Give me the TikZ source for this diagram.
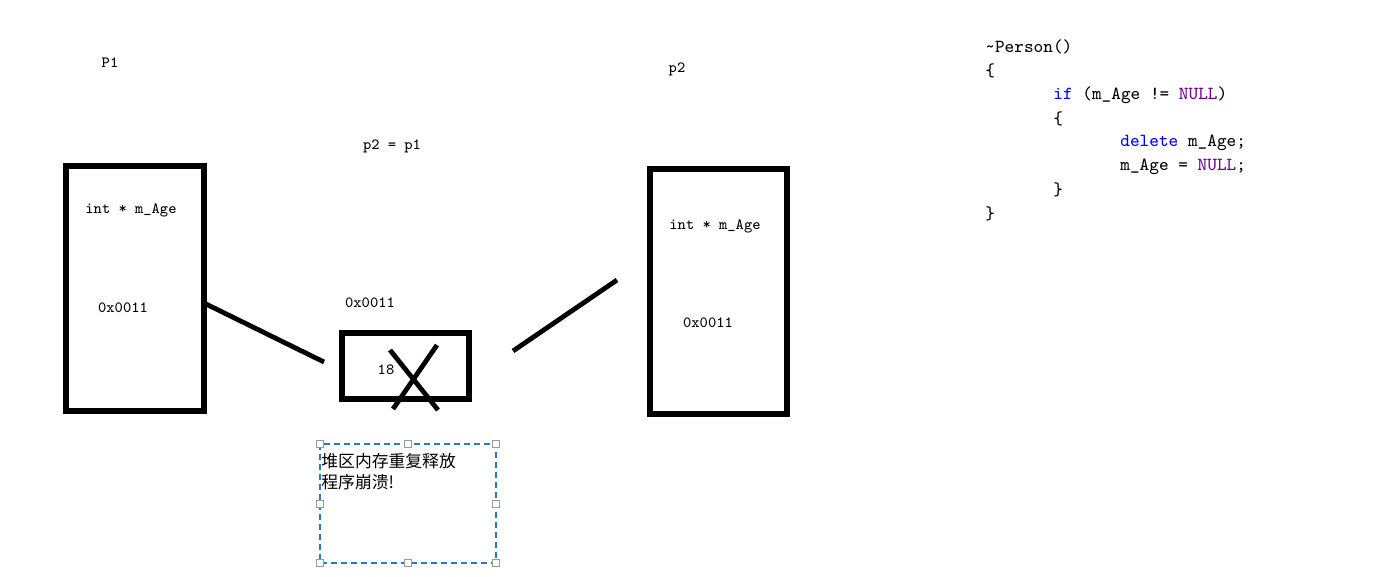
\documentclass[tikz,border=0pt]{standalone}
\usepackage{fontspec}
\newfontfamily\cjk{Noto Sans CJK SC}
\usepackage{xcolor}
\definecolor{kwblue}{RGB}{0,0,255}
\definecolor{kwnull}{RGB}{111,0,138}
\definecolor{selblue}{RGB}{40,120,200}
\usetikzlibrary{positioning}

\tikzset{
  lbl/.style={inner sep=0pt, font=\ttfamily\fontsize{7.8}{9}\selectfont},
  code/.style={inner sep=0pt, anchor=west, font=\ttfamily\fontsize{9.2}{10}\selectfont},
  membox/.style={line width=2.6pt},
  link/.style={line width=2.4pt},
  handle/.style={draw=gray!80, fill=white, line width=0.4pt, minimum size=3.4pt, inner sep=0pt}
}

\begin{document}
\begin{tikzpicture}[x=0.5pt, y=-0.5pt]
    \useasboundingbox (0,0) rectangle (1374,577);

    % p1
    \node[lbl](p1) at (110,63){P1};
    \draw [membox] (66,166) rectangle (204,411);
    \node[lbl](p1age) at (131,210){int * m\_Age};
    \node[lbl](p1addr) at (123,308){0x0011};

    % p2 = p1
    \node[lbl](assign) at (392,146){p2 = p1};

    % the heap block
    \node[lbl](heapaddr) at (370,303){0x0011};
    \draw [membox] (342,333) rectangle (469,399);
    \node[lbl](val) at (386,370){18};
    \coordinate (xa) at (390,350);
    \coordinate (xb) at (438,410);
    \coordinate (xc) at (437,345);
    \coordinate (xd) at (393,409);
    \draw [link] (xa) -- (xb);
    \draw [link] (xc) -- (xd);

    % p2
    \node[lbl](p2) at (677,69){p2};
    \draw [membox] (650,169) rectangle (787,414);
    \node[lbl](p2age) at (715,226){int * m\_Age};
    \node[lbl](p2addr) at (708,323){0x0011};

    % links
    \coordinate (la) at (206,304);
    \coordinate (lb) at (324,362);
    \coordinate (lc) at (513,351);
    \coordinate (ld) at (617,280);
    \draw [link] (la) -- (lb);
    \draw [link] (lc) -- (ld);

    % text box
    \draw [selblue, line width=0.6pt, dash pattern=on 3pt off 2pt]
      (320,444) rectangle (496,563);
    \node[inner sep=0pt, anchor=west, font=\cjk\fontsize{8.4}{9}\selectfont](warn1)
      at (321,461){堆区内存重复释放};
    \node[inner sep=0pt, anchor=west, font=\cjk\fontsize{8.4}{9}\selectfont](warn2)
      at (321,482){程序崩溃!};
    \foreach \hx/\hy in {320/444, 408/444, 496/444, 320/504, 496/504,
                         320/563, 408/563, 496/563}
      \node[handle] at (\hx,\hy){};

    % destructor
    \node[code](c1) at (985,47){\textasciitilde Person()};
    \node[code](c2) at (985,71){\{};
    \node[code](c3) at (1053,95){\textcolor{kwblue}{if} (m\_Age != \textcolor{kwnull}{NULL})};
    \node[code](c4) at (1053,119){\{};
    \node[code](c5) at (1120,143){\textcolor{kwblue}{delete} m\_Age;};
    \node[code](c6) at (1120,167){m\_Age = \textcolor{kwnull}{NULL};};
    \node[code](c7) at (1053,190){\}};
    \node[code](c8) at (985,214){\}};
\end{tikzpicture}
\end{document}
